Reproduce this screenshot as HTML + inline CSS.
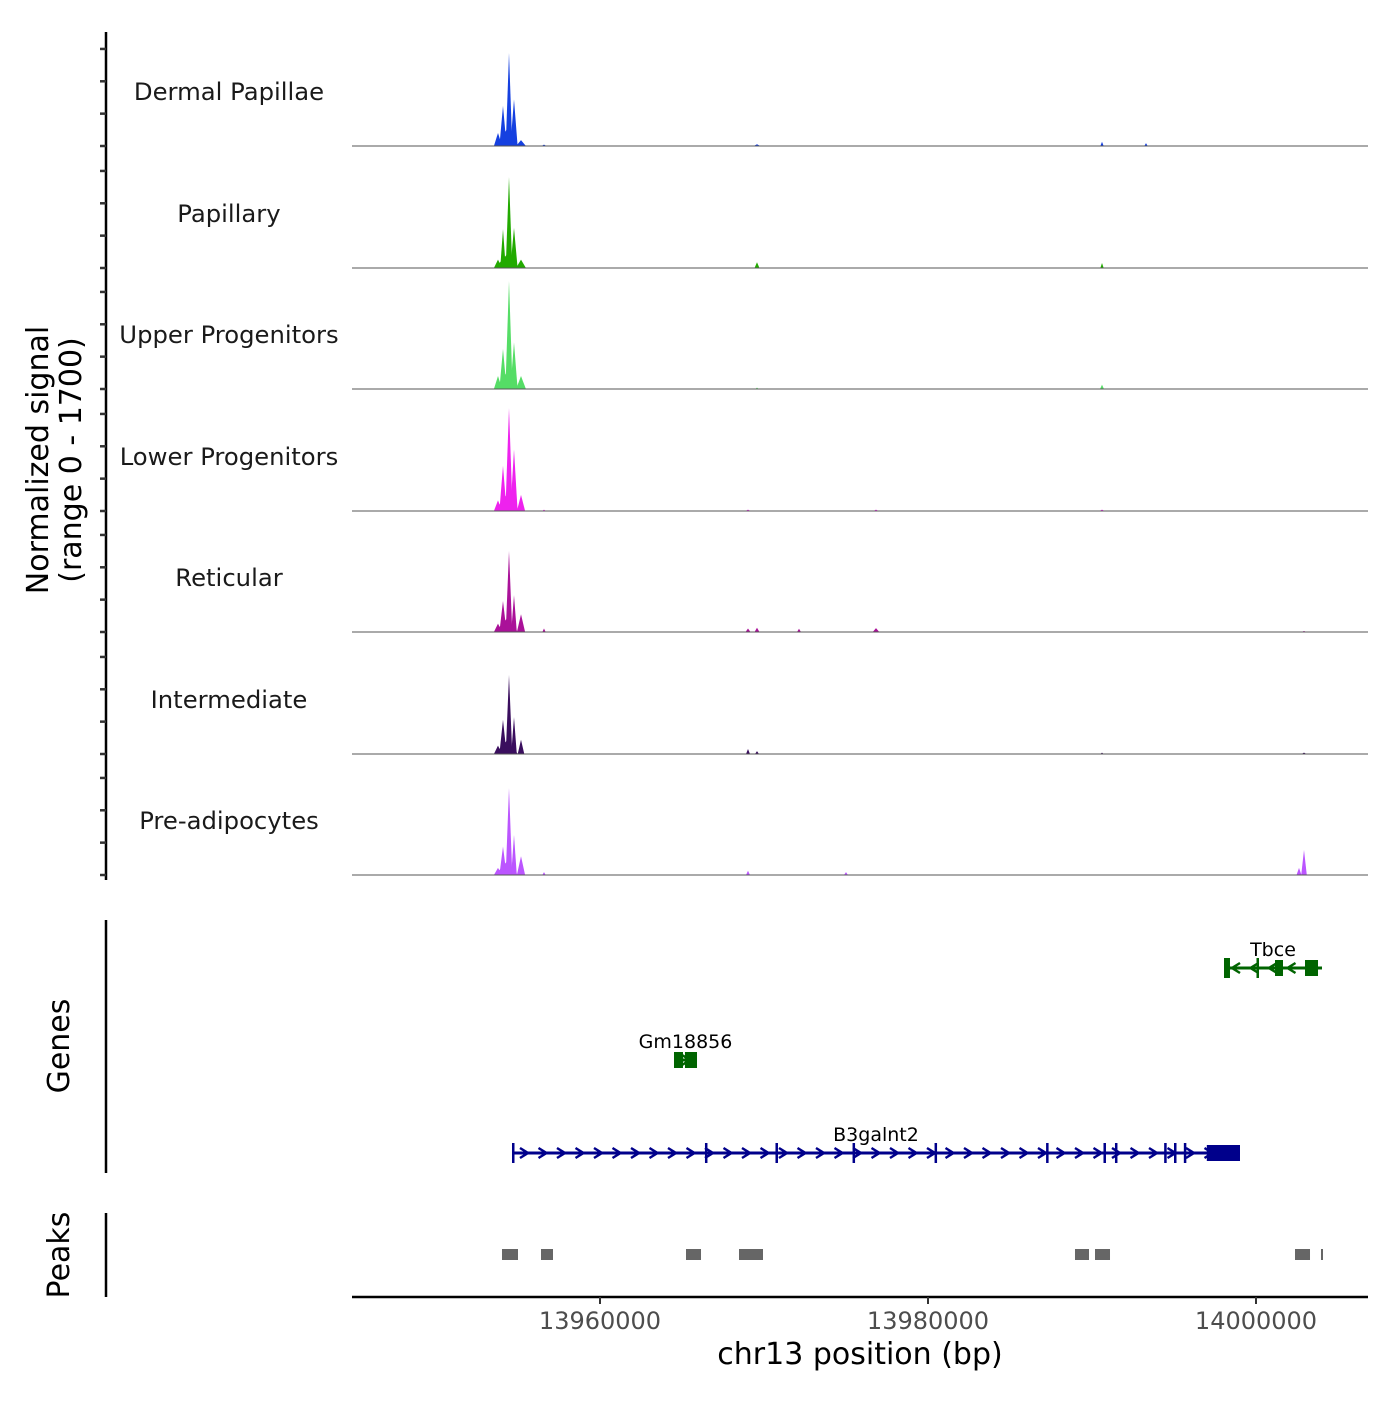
<!DOCTYPE html>
<html><head><meta charset="utf-8"><style>
html,body{margin:0;padding:0;background:#fff;}
svg text{font-family:"DejaVu Sans","Liberation Sans",sans-serif;}
</style></head><body>
<svg id="chart" width="1400" height="1400" viewBox="0 0 1400 1400" xmlns="http://www.w3.org/2000/svg">
<rect width="1400" height="1400" fill="#fff"/>
<g id="tracks"></g>
<g id="axes"></g>
<g id="genes"></g>
<g id="peaks"></g>
<text x="62" y="460" font-size="30" text-anchor="middle" transform="rotate(-90 62 460)"><tspan x="62" dy="-14">Normalized signal</tspan><tspan x="62" dy="33">(range 0 - 1700)</tspan></text>
<text x="69" y="1046" font-size="30" text-anchor="middle" transform="rotate(-90 69 1046)">Genes</text>
<text x="69" y="1255" font-size="30" text-anchor="middle" transform="rotate(-90 69 1255)">Peaks</text>
<text x="860" y="1364" font-size="30" text-anchor="middle">chr13 position (bp)</text>
</svg>
<script>
const NS="http://www.w3.org/2000/svg";
const trackNames=["Dermal Papillae","Papillary","Upper Progenitors","Lower Progenitors","Reticular","Intermediate","Pre-adipocytes"];
const trackColors=["#1540e0","#22aa00","#55dd66","#ee22ee","#aa1199","#3a0e5e","#bb55ff"];
// spikes: [center bp, value, half-width bp]
const spikesDermal=[[13954300,250,700],[13953780,200,250],[13954085,620,220],[13954451,1437,200],[13954756,720,220],[13955183,90,300],[13956585,22,150],[13969573,28,200],[13990610,66,100],[13993292,44,100]];
const spikesPapillary=[[13954300,200,700],[13953780,130,250],[13954085,600,170],[13954451,1406,200],[13954756,620,220],[13955183,130,300],[13969573,88,150],[13990610,77,100]];
const spikesUpper=[[13954300,250,700],[13953780,200,250],[13954085,620,220],[13954451,1669,220],[13954756,720,220],[13955183,200,300],[13969573,22,100],[13990610,66,120]];
const spikesLower=[[13954300,250,700],[13953780,165,250],[13954085,700,220],[13954451,1592,220],[13954756,950,220],[13955183,250,250],[13956585,22,100],[13969024,22,150],[13976829,22,150],[13990610,22,150]];
const spikesReticular=[[13954300,200,700],[13953780,130,250],[13954085,480,220],[13954451,1252,200],[13954756,570,170],[13955183,275,250],[13956585,55,100],[13969024,55,150],[13969573,66,150],[13972134,50,120],[13976829,60,200],[14002927,16,150]];
const spikesIntermediate=[[13954300,200,700],[13953780,130,250],[13954085,530,220],[13954451,1221,200],[13954756,570,170],[13955183,220,200],[13969024,77,120],[13969573,44,120],[13990610,22,100],[14002927,22,150]];
const spikesPreadip=[[13954300,200,700],[13953780,110,250],[13954085,440,220],[13954451,1345,200],[13954756,620,170],[13955183,290,250],[13956585,44,100],[13969024,66,120],[13974999,44,120],[14002622,110,150],[14002927,386,170]];
const trackSpikes=[spikesDermal,spikesPapillary,spikesUpper,spikesLower,spikesReticular,spikesIntermediate,spikesPreadip];
const xTicks=[13960000,13980000,14000000];
const yTicks=[0,500,1000,1500];
const yMax=1700;
const geneNames=["B3galnt2","Gm18856","Tbce"];
const geneStarts=[13954634,13964512,13998049];
const geneEnds=[13999024,13965915,14004024];
const geneStrands=[1,1,-1];
const geneColors=["#00008b","#006400","#006400"];
const geneRowY=[1153,1060,968];
const exonsB3=[[13954634,13954700],[13966400,13966450],[13970700,13970750],[13975400,13975460],[13980400,13980450],[13987200,13987250],[13990700,13990750],[13991400,13991450],[13994400,13994450],[13995000,13995050],[13995600,13995650],[13997000,13999024]];
const exonsGm=[[13964512,13965060],[13965180,13965915]];
const exonsTbce=[[13998049,13998414],[14000030,14000090],[14001159,14001646],[14002988,14003781]];
const peakStarts=[13954024,13956402,13965244,13968476,13988963,13990183,14002378,14003963];
const peakEnds=[13955000,13957134,13966159,13969939,13989817,13991098,14003293,14004085];

const x0=352,x1=1368,bp0=13944878,bpPerPx=1/0.0164;
function xs(bp){return x0+(bp-bp0)/bpPerPx;}
const baselines=[146,268,389,511,632,754,875];
const trackH=110;
function ys(v,i){return baselines[i]-v/yMax*trackH;}
function el(tag,attrs,parent){const e=document.createElementNS(NS,tag);for(const k in attrs)e.setAttribute(k,attrs[k]);parent.appendChild(e);return e;}

const gT=document.getElementById('tracks');
trackSpikes.forEach((sp,i)=>{
  const g=el('g',{},gT);
  
  
  sp.forEach(s=>{
    const p=el('polygon',{points:`${xs(s[0]-s[2])},${baselines[i]} ${xs(s[0])},${ys(s[1],i)} ${xs(s[0]+s[2])},${baselines[i]}`,fill:trackColors[i]},g);
    
    
  });
  const b=el('line',{x1:x0,x2:x1,y1:baselines[i],y2:baselines[i],stroke:'#555','stroke-width':1},g);
  
  
  const t=el('text',{x:229,y:baselines[i]-46,'font-size':24.3,'text-anchor':'middle',fill:'#1a1a1a'},g);
  t.textContent=trackNames[i];
  
  
});

const gA=document.getElementById('axes');
el('line',{x1:106,x2:106,y1:32,y2:880,stroke:'#000','stroke-width':2.5},gA);
baselines.forEach((b,i)=>{
  yTicks.forEach(v=>{const y=ys(v,i);el('line',{x1:100,x2:106,y1:y,y2:y,stroke:'#333','stroke-width':2.5},gA);});
});
el('line',{x1:106,x2:106,y1:920,y2:1173,stroke:'#000','stroke-width':2.5},gA);
el('line',{x1:106,x2:106,y1:1213,y2:1297,stroke:'#000','stroke-width':2.5},gA);
el('line',{x1:x0,x2:x1,y1:1297,y2:1297,stroke:'#000','stroke-width':2.5},gA);
xTicks.forEach(v=>{
  el('line',{x1:xs(v),x2:xs(v),y1:1297,y2:1304,stroke:'#333','stroke-width':2},gA);
  const t=el('text',{x:xs(v),y:1329,'font-size':24,'text-anchor':'middle',fill:'#4d4d4d'},gA);
  t.textContent=v;
  
  
});

const gG=document.getElementById('genes');
const geneExons=[exonsB3,exonsGm,exonsTbce];
geneNames.forEach((n,i)=>{
  const g=el('g',{},gG);
  
  
  const y=geneRowY[i],c=geneColors[i];
  const a=xs(geneStarts[i]),b=xs(geneEnds[i]);
  el('line',{x1:a,x2:b,y1:y,y2:y,stroke:c,'stroke-width':3},g);
  for(let x=a+12;x<b-4;x+=18.5){
    const d=geneStrands[i]*4;
    el('polyline',{points:`${x-d},${y-5} ${x+d},${y} ${x-d},${y+5}`,fill:'none',stroke:c,'stroke-width':2.5},g);
  }
  geneExons[i].forEach(e=>{
    const ea=xs(e[0]),eb=Math.max(xs(e[1]),ea+2.5);
    const big=(eb-ea)>6;
    el('rect',{x:ea,y:y-(big?8:10),width:eb-ea,height:big?16:20,fill:c},g);
  });
  const t=el('text',{x:(a+b)/2,y:y-12,'font-size':19,'text-anchor':'middle',fill:'#000'},g);
  t.textContent=n;
  
  
});

const gP=document.getElementById('peaks');
peakStarts.forEach((s,i)=>{
  const r=el('rect',{x:xs(s),y:1249,width:Math.max(2,xs(peakEnds[i])-xs(s)),height:11,fill:'#666'},gP);
  
  
});
</script>
</body></html>
